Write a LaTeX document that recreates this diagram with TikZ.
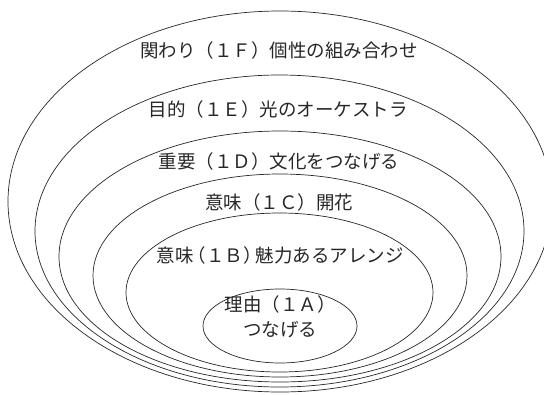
\documentclass[tikz,border=0pt]{standalone}
\usepackage{fontspec}
\setmainfont{Noto Sans CJK JP}
\begin{document}
\begin{tikzpicture}[x=1pt,y=-1pt,
  ring/.style={draw=black!85,line width=0.7pt},
  lbl/.style={inner sep=0pt,text=black!85,font=\fontsize{18.5}{25}\selectfont,align=center}]
\useasboundingbox (0,0) rectangle (544,394);
\begin{scope}
\clip (0,0) rectangle (544,394);
\draw[ring] (280,201.5) ellipse [x radius=272pt, y radius=190.5pt];
\draw[ring] (279.5,231) ellipse [x radius=244.5pt, y radius=156pt];
\draw[ring] (280,256.5) ellipse [x radius=221pt, y radius=125.5pt];
\draw[ring] (280,275.5) ellipse [x radius=187pt, y radius=101.5pt];
\draw[ring] (279.5,292.5) ellipse [x radius=153.5pt, y radius=79.5pt];
\draw[ring] (280,326) ellipse [x radius=77pt, y radius=37pt];
\end{scope}
\node[lbl] (tf) at (279,50) {関わり（１Ｆ）個性の組み合わせ};
\node[lbl] (te) at (278,109) {目的（１Ｅ）光のオーケストラ};
\node[lbl] (td) at (279,161) {重要（１Ｄ）文化をつなげる};
\node[lbl] (tc) at (279,202) {意味（１Ｃ）開花};
\node[lbl] (tb) at (280,255) {意味\kern-6pt（１Ｂ）\kern-6pt魅力あるアレンジ};
\node[lbl] (ta) at (280,317) {理由（１Ａ）\\つなげる};
\end{tikzpicture}
\end{document}
